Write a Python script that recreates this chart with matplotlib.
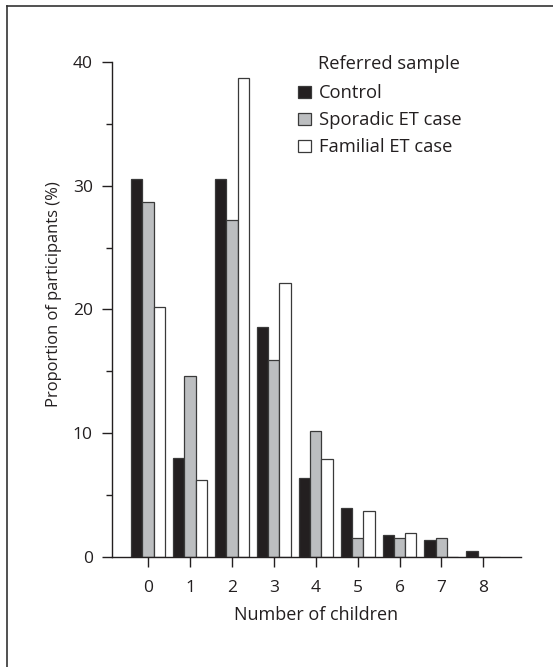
import matplotlib
matplotlib.use("Agg")
import matplotlib.pyplot as plt
from matplotlib.patches import Patch
from matplotlib.lines import Line2D
import numpy as np

plt.rcParams['font.family'] = ['Open Sans', 'DejaVu Sans']

categories = [0, 1, 2, 3, 4, 5, 6, 7, 8]
control = [30.5, 8.0, 30.55, 18.55, 6.4, 4.0, 1.83, 1.37, 0.48]
sporadic = [28.7, 14.63, 27.25, 15.92, 10.2, 1.56, 1.56, 1.56, 0.0]
familial = [20.18, 6.24, 38.7, 22.1, 7.96, 3.76, 1.99, 0.0, 0.0]
series_names = ["Control", "Sporadic ET case", "Familial ET case"]
legend_title = "Referred sample"
xlabel = "Number of children"
ylabel = "Proportion of participants (%)"
yticks = [0, 10, 20, 30, 40]

text_color = "#231f20"
colors = ["#231f20", "#bcbec0", "#ffffff"]
edge = "#3a3a3a"

W, H = 553, 667
PX = 72 / 100  # points per pixel
fig = plt.figure(figsize=(W / 100, H / 100), dpi=100)
ax_left, ax_right = 111.7, 521.0
ax_top, ax_bottom = 61.7, 557.3
ax = fig.add_axes([ax_left / W, 1 - ax_bottom / H, (ax_right - ax_left) / W, (ax_bottom - ax_top) / H])

def ax_fx(px):
    return (px - ax_left) / (ax_right - ax_left)

def ax_fy(py):
    return (ax_bottom - py) / (ax_bottom - ax_top)

x = np.arange(len(categories))
bw = 0.27
for i, (vals, c) in enumerate(zip([control, sporadic, familial], colors)):
    ax.bar(x + (i - 1) * bw, vals, width=bw, color=c, edgecolor=edge, linewidth=0.9, zorder=2)

ax.set_xlim(-0.87, 8.9)
ax.set_ylim(0, 40)
ax.set_xticks(x)
ax.set_xticklabels([str(c) for c in categories])
ax.set_yticks(yticks)
ax.set_yticks([5, 15, 25, 35], minor=True)

for s in ["top", "right"]:
    ax.spines[s].set_visible(False)
for s in ["left", "bottom"]:
    ax.spines[s].set_color(text_color)
    ax.spines[s].set_linewidth(1.0)

fs_tick = 12.5
fs_leg = 13.2
ax.tick_params(axis="both", which="major", colors=text_color, labelcolor=text_color,
               labelsize=fs_tick, width=1.0)
ax.tick_params(axis="y", which="major", length=10 * PX, pad=9 * PX)
ax.tick_params(axis="y", which="minor", length=6 * PX, width=1.0, color=text_color)
ax.tick_params(axis="x", which="major", length=10 * PX, pad=13 * PX)

ax.set_xlabel(xlabel, fontsize=13.0, color=text_color, labelpad=9.3 * PX)
ax.set_ylabel(ylabel, fontsize=11.9, color=text_color)
ax.yaxis.set_label_coords(ax_fx(62), ax_fy(294))

handles = [Patch(facecolor=c, edgecolor=edge, linewidth=0.9) for c in colors]
leg = ax.legend(handles, series_names, loc="upper left",
                bbox_to_anchor=(ax_fx(298.3), ax_fy(84.3)),
                frameon=False, fontsize=fs_leg, borderpad=0,
                handlelength=0.69, handleheight=0.64, handletextpad=0.42,
                labelspacing=0.49, borderaxespad=0)
for t in leg.get_texts():
    t.set_color(text_color)
ax.text(ax_fx(317.5), ax_fy(69.3), legend_title, transform=ax.transAxes,
        ha="left", va="baseline", fontsize=fs_leg, color=text_color)

# outer frame (top and left edges visible)
fig.add_artist(Line2D([7 / W, 7 / W], [0, 1 - 6 / H], transform=fig.transFigure, color="#333333", lw=1.2))
fig.add_artist(Line2D([7 / W, 1], [1 - 6 / H, 1 - 6 / H], transform=fig.transFigure, color="#333333", lw=1.2))

fig.savefig("out.png", dpi=100)
